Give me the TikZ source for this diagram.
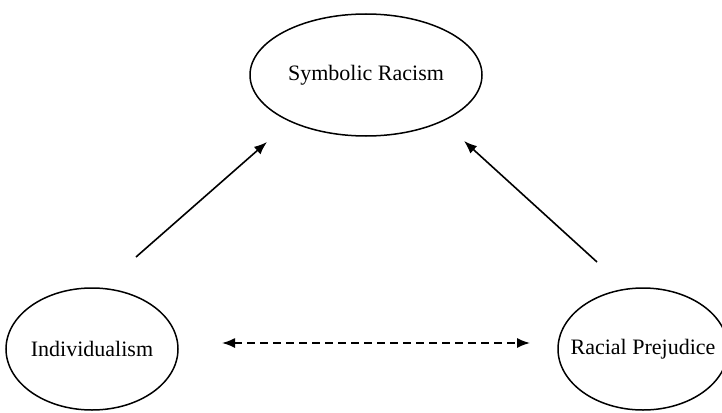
\documentclass[tikz,border=0pt]{standalone}
\usepackage{fontspec}
\setmainfont{Liberation Serif}
\usetikzlibrary{shapes.geometric,arrows.meta}
\begin{document}
\begin{tikzpicture}[x=1pt,y=-1pt,
  construct/.style={draw,ellipse,line width=1.5pt,inner sep=0pt},
  caption/.style={font=\fontsize{22}{26}\selectfont,inner sep=0pt},
  link/.style={line width=1.6pt,-{Latex[length=13pt,width=10pt]}},
  corr/.style={line width=1.6pt,dash pattern=on 8pt off 5pt,{Latex[length=13pt,width=10pt]}-{Latex[length=13pt,width=10pt]}}]
  \useasboundingbox (0,0) rectangle (722,412);
  % construct outlines, with their names set on top
  \node[construct,minimum width=232pt,minimum height=122pt] (sym) at (366,75) {};
  \node[construct,minimum width=172pt,minimum height=122pt] (ind) at (92,349) {};
  \node[construct,minimum width=170pt,minimum height=122pt] (pre) at (643,349) {};
  \node[caption] (symtext) at (sym) {Symbolic Racism};
  \node[caption] (indtext) at (ind) {Individualism};
  \node[caption] (pretext) at (pre) {Racial Prejudice};
  % free ends of the causal paths
  \coordinate (indout) at (136,257);
  \coordinate (symin1) at (267,142);
  \coordinate (preout) at (597,262);
  \coordinate (symin2) at (464,141);
  \coordinate (corrl) at (222,343);
  \coordinate (corrr) at (530,343);
  \draw[link] (indout) -- (symin1);
  \draw[link] (preout) -- (symin2);
  \draw[corr] (corrl) -- (corrr);
\end{tikzpicture}
\end{document}
